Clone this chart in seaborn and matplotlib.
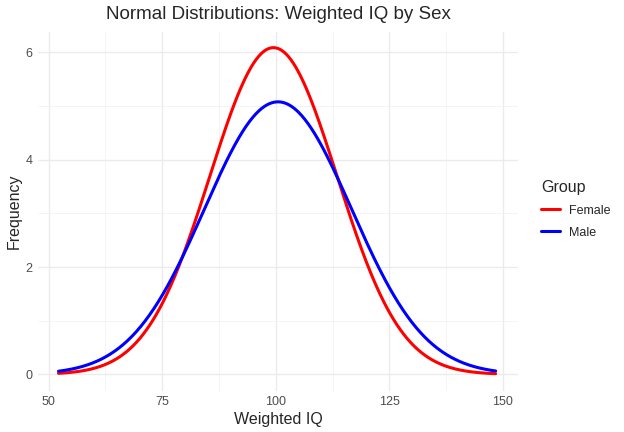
import numpy as np
import pandas as pd
import matplotlib
matplotlib.use("Agg")
import matplotlib.pyplot as plt
import seaborn as sns
from matplotlib.ticker import MultipleLocator

# distribution parameters
groups = ["Female", "Male"]
means = [99.5, 100.5]
sds = [14.0, 16.2]
peaks = [6.09, 5.08]          # curve height at the mean (Frequency)
x_start, x_end = 52.2, 148.4
colors = {"Female": "#FF0000", "Male": "#0000FF"}

x = np.linspace(x_start, x_end, 400)
frames = []
for g, m, s, h in zip(groups, means, sds, peaks):
    frames.append(pd.DataFrame({
        "Weighted IQ": x,
        "Frequency": h * np.exp(-0.5 * ((x - m) / s) ** 2),
        "Group": g,
    }))
df = pd.concat(frames, ignore_index=True)

sns.set_style("white")
plt.rcParams["font.family"] = ["Liberation Sans", "DejaVu Sans"]

fig = plt.figure(figsize=(6.24, 4.32), dpi=100)
ax = fig.add_axes([0.061, 0.096, 0.769, 0.831])

sns.lineplot(data=df, x="Weighted IQ", y="Frequency", hue="Group",
             palette=colors, linewidth=2.2, ax=ax, zorder=3)

ax.set_xlim(47.7, 153.3)
ax.set_ylim(-0.3, 6.39)
ax.xaxis.set_major_locator(MultipleLocator(25))
ax.xaxis.set_minor_locator(MultipleLocator(12.5))
ax.yaxis.set_major_locator(MultipleLocator(2))
ax.yaxis.set_minor_locator(MultipleLocator(1))
ax.grid(which="major", color="#EBEBEB", linewidth=1.0, zorder=0)
ax.grid(which="minor", color="#F2F2F2", linewidth=0.6, zorder=0)
for sp in ax.spines.values():
    sp.set_visible(False)
ax.tick_params(which="both", length=0, labelsize=9, labelcolor="#4D4D4D", pad=4)

ax.set_title("Normal Distributions: Weighted IQ by Sex", fontsize=13.5, pad=9)
ax.set_xlabel("Weighted IQ", fontsize=11.5, labelpad=3)
ax.set_ylabel("Frequency", fontsize=11.5, labelpad=3)

leg = ax.legend(title="Group", loc="center left", bbox_to_anchor=(1.025, 0.505),
                frameon=False, fontsize=9, title_fontsize=11.5,
                handlelength=1.5, handletextpad=0.7, labelspacing=0.8,
                alignment="left")
for line in leg.get_lines():
    line.set_linewidth(2.2)

fig.savefig("out.png", dpi=100)
